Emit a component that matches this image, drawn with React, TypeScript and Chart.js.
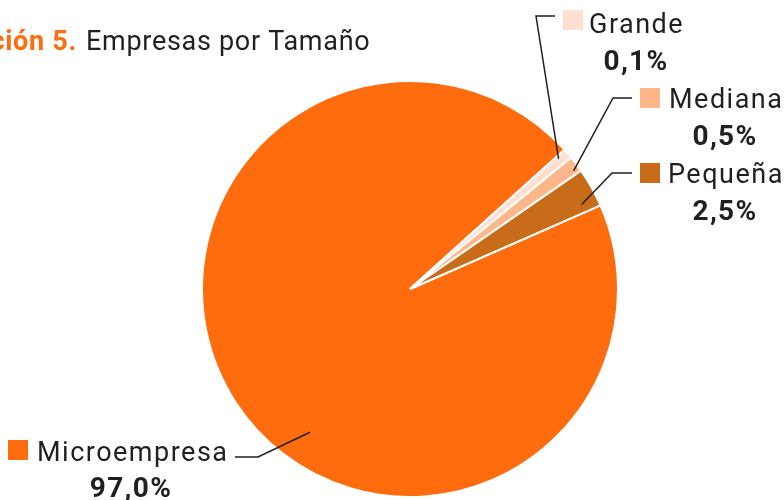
import React, { useEffect, useRef } from "react";
import { Chart, registerables } from "chart.js";

Chart.register(...registerables);

// Data
const categories = ["Microempresa", "Grande", "Mediana", "Pequeña"];
const valueLabels = ["97,0%", "0,1%", "0,5%", "2,5%"];
// slice sizes as drawn in the reference picture (share of the circle, %)
const sliceValues = [94.9, 0.8, 1.25, 3.05];
const sliceColors = ["#FF6C0E", "#FFDFCF", "#FFB689", "#C96C19"];

const TITLE_BOLD = "Sección 5.";
const TITLE_REST = "Empresas por Tamaño";

// Label layout (positions only)
const labelLayout = [
  { t: 0.435, rf: 0.84, elbow: [258, 457], end: [235, 457], box: [8, 440], name: [37, 461], val: [131, 497] },
  { t: 0.28, rf: 0.95, elbow: [536, 16], end: [555, 16], box: [563, 10], name: [589, 33], val: [636, 70] },
  { t: 0.75, rf: 0.97, elbow: [613, 98], end: [632, 98], box: [640, 88], name: [669, 108], val: [725, 145] },
  { t: 0.77, rf: 0.92, elbow: [612, 173], end: [632, 173], box: [640, 163], name: [668, 183], val: [725, 220] },
];

const FONT = "Roboto, 'DejaVu Sans', sans-serif";
const TEXT_COLOR = "#231F20";

const labelsPlugin = {
  id: "labelsPlugin",
  afterDraw(chart: any) {
    const ctx = chart.ctx as any;
    const meta = chart.getDatasetMeta(0);
    ctx.save();
    ctx.textBaseline = "alphabetic";
    // title
    ctx.letterSpacing = "0.7px";
    ctx.font = `bold 27px ${FONT}`;
    ctx.fillStyle = "#FF6C0E";
    ctx.textAlign = "right";
    ctx.fillText(TITLE_BOLD, 77, 50);
    ctx.font = `27px ${FONT}`;
    ctx.fillStyle = TEXT_COLOR;
    ctx.textAlign = "left";
    ctx.fillText(TITLE_REST, 86, 50);

    meta.data.forEach((arc: any, i: number) => {
      const L = labelLayout[i];
      const a = arc.startAngle + (arc.endAngle - arc.startAngle) * L.t;
      const r = arc.outerRadius * L.rf;
      const ax = arc.x + Math.cos(a) * r;
      const ay = arc.y + Math.sin(a) * r;
      ctx.strokeStyle = TEXT_COLOR;
      ctx.lineWidth = 1.5;
      ctx.beginPath();
      ctx.moveTo(ax, ay);
      ctx.lineTo(L.elbow[0], L.elbow[1]);
      ctx.lineTo(L.end[0], L.end[1]);
      ctx.stroke();

      ctx.fillStyle = sliceColors[i];
      ctx.fillRect(L.box[0], L.box[1], 20, 20);

      ctx.fillStyle = TEXT_COLOR;
      ctx.textAlign = "left";
      ctx.letterSpacing = "1.5px";
      ctx.font = `27px ${FONT}`;
      ctx.fillText(categories[i], L.name[0], L.name[1]);
      ctx.textAlign = "center";
      ctx.letterSpacing = "1.3px";
      ctx.font = `bold 28px ${FONT}`;
      ctx.fillText(valueLabels[i], L.val[0], L.val[1]);
    });
    ctx.restore();
  },
};

export default function App() {
  const ref = useRef<HTMLCanvasElement>(null);
  useEffect(() => {
    const chart = new Chart(ref.current!, {
      type: "pie",
      data: {
        labels: categories,
        datasets: [
          {
            data: sliceValues,
            backgroundColor: sliceColors,
            borderColor: "#FFFFFF",
            borderWidth: 2,
          },
        ],
      },
      options: {
        animation: false,
        responsive: true,
        maintainAspectRatio: false,
        rotation: 66.3,
        layout: { padding: { left: 201, right: 165, top: 80, bottom: 2 } },
        plugins: { legend: { display: false }, tooltip: { enabled: false }, title: { display: false } },
      },
      plugins: [labelsPlugin],
    });
    return () => chart.destroy();
  }, []);
  return (
    <div style={{ position: "fixed", left: 0, top: 0, width: 784, height: 500, background: "#fff" }}>
      <canvas ref={ref} />
    </div>
  );
}
